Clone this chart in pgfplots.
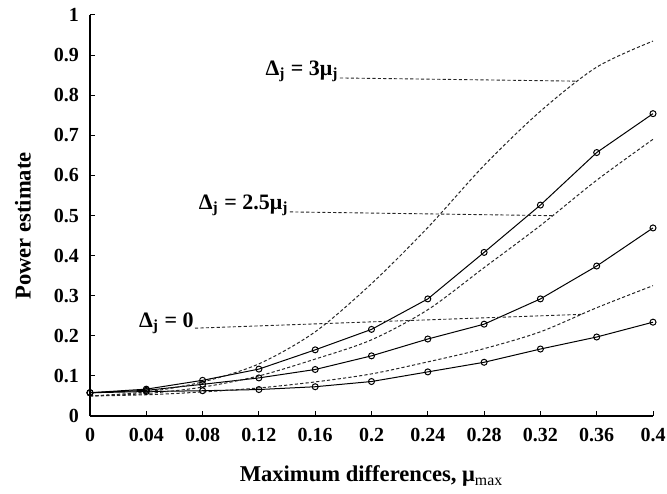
\documentclass[border=0pt]{standalone}
\usepackage{fontspec}
\setmainfont{Liberation Serif}
\usepackage{pgfplots}
\pgfplotsset{compat=1.18}

% sizes chosen at 1 px of the reference = 0.5pt
\newcommand{\tickfont}{\bfseries\fontsize{10}{11}\selectfont}
\newcommand{\labfont}{\bfseries\fontsize{11.3}{13}\selectfont}
\newcommand{\annfont}{\bfseries\fontsize{11}{12}\selectfont}
\tikzset{
  curve/.style={black!85, line width=0.5pt, dash pattern=on 1.6pt off 1.1pt, smooth},
  sim/.style={black, line width=0.5pt, mark=o, mark size=1.5pt, mark options={solid, fill=white}},
}

\begin{document}
\begin{tikzpicture}
\useasboundingbox (-45pt,-38.5pt) rectangle (288.5pt,208pt);
\begin{axis}[
  scale only axis,
  width=281.5pt, height=200.5pt,
  xmin=0, xmax=0.4, ymin=0, ymax=1,
  axis x line*=bottom, axis y line*=left,
  axis line style={line width=0.6pt},
  tick style={black, line width=0.5pt},
  major tick length=2.5pt,
  xtick={0,0.04,0.08,0.12,0.16,0.2,0.24,0.28,0.32,0.36,0.4},
  xticklabels={0,0.04,0.08,0.12,0.16,0.2,0.24,0.28,0.32,0.36,0.4},
  ytick={0,0.1,0.2,0.3,0.4,0.5,0.6,0.7,0.8,0.9,1},
  yticklabels={0,0.1,0.2,0.3,0.4,0.5,0.6,0.7,0.8,0.9,1},
  tick label style={font=\tickfont},
  xticklabel style={yshift=-2.5pt},
  yticklabel style={xshift=-2pt},
  xlabel={Maximum differences, μ\textsubscript{\mdseries max}},
  ylabel={Power estimate},
  label style={font=\labfont},
  xlabel style={at={(axis description cs:0.5,-0.164)}, anchor=base},
  ylabel style={at={(axis description cs:-0.119,0.474)}, anchor=center},
  clip=false,
]
% simulated power (solid, circles)
\addplot[sim] coordinates {
  (0,0.058) (0.04,0.067) (0.08,0.089) (0.12,0.117) (0.16,0.165) (0.2,0.216)
  (0.24,0.292) (0.28,0.408) (0.32,0.526) (0.36,0.657) (0.4,0.754)};
\addplot[sim] coordinates {
  (0,0.058) (0.04,0.064) (0.08,0.079) (0.12,0.095) (0.16,0.116) (0.2,0.150)
  (0.24,0.192) (0.28,0.229) (0.32,0.292) (0.36,0.374) (0.4,0.469)};
\addplot[sim] coordinates {
  (0,0.058) (0.04,0.061) (0.08,0.063) (0.12,0.066) (0.16,0.073) (0.2,0.086)
  (0.24,0.110) (0.28,0.134) (0.32,0.167) (0.36,0.197) (0.4,0.234)};

% theoretical curves (dashed)
\addplot[curve] coordinates {
  (0,0.05) (0.04,0.06) (0.08,0.085) (0.12,0.13) (0.16,0.21) (0.2,0.33)
  (0.24,0.47) (0.28,0.625) (0.32,0.76) (0.36,0.87) (0.4,0.935)};
\addplot[curve] coordinates {
  (0,0.05) (0.04,0.056) (0.08,0.072) (0.12,0.1) (0.16,0.142) (0.2,0.19)
  (0.24,0.265) (0.28,0.37) (0.32,0.475) (0.36,0.588) (0.4,0.69)};
\addplot[curve] coordinates {
  (0,0.05) (0.04,0.053) (0.08,0.06) (0.12,0.07) (0.16,0.085) (0.2,0.105)
  (0.24,0.135) (0.28,0.168) (0.32,0.21) (0.36,0.27) (0.4,0.325)};

% labels with leader lines
\draw[black!85, line width=0.45pt, dash pattern=on 1.6pt off 1.1pt]
  (axis cs:0.1776,0.843) -- (axis cs:0.3467,0.835);
\node[font=\annfont, anchor=base east, inner sep=0.5pt] at (axis cs:0.1776,0.849)
  {Δ\textsubscript{j} = 3μ\textsubscript{j}};
\draw[black!85, line width=0.45pt, dash pattern=on 1.6pt off 1.1pt]
  (axis cs:0.142,0.509) -- (axis cs:0.330,0.4995);
\node[font=\annfont, anchor=base east, inner sep=0.5pt] at (axis cs:0.142,0.515)
  {Δ\textsubscript{j} = 2.5μ\textsubscript{j}};
\draw[black!85, line width=0.45pt, dash pattern=on 1.6pt off 1.1pt]
  (axis cs:0.0746,0.219) -- (axis cs:0.350,0.2536);
\node[font=\annfont, anchor=base east, inner sep=0.5pt] at (axis cs:0.0746,0.221)
  {Δ\textsubscript{j} = 0};
\end{axis}
\end{tikzpicture}
\end{document}
